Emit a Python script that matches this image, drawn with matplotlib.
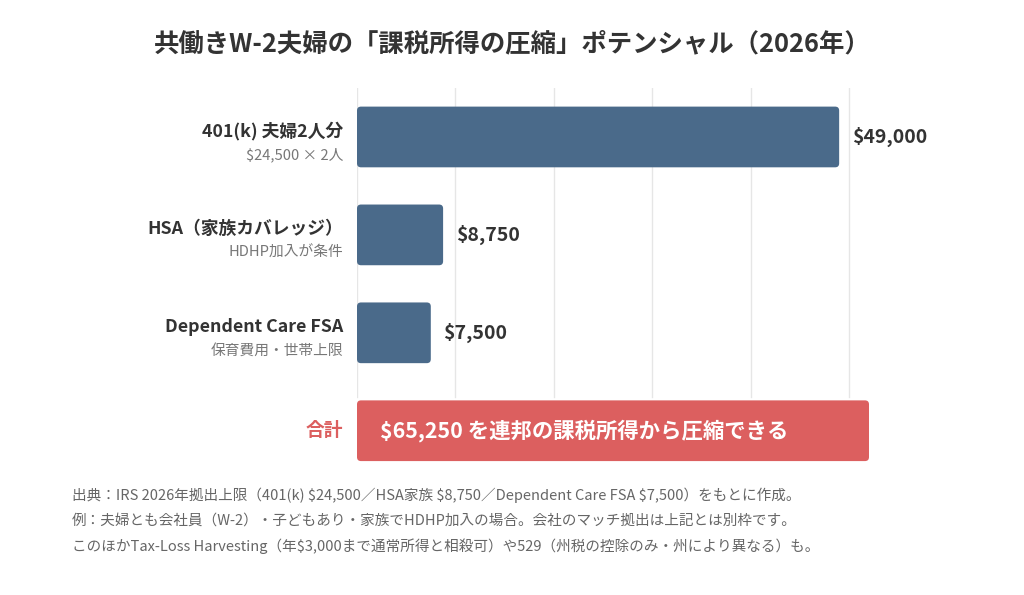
import matplotlib.pyplot as plt
from matplotlib.patches import FancyBboxPatch

plt.rcParams['font.family'] = ['Noto Sans CJK JP', 'DejaVu Sans']

title = '共働きW-2夫婦の「課税所得の圧縮」ポテンシャル（2026年）'
labels = ['401(k) 夫婦2人分', 'HSA（家族カバレッジ）', 'Dependent Care FSA']
sublabels = ['$24,500 × 2人', 'HDHP加入が条件', '保育費用・世帯上限']
values = [49000, 8750, 7500]
value_text = ['$49,000', '$8,750', '$7,500']
total_label = '合計'
total_text = '$65,250 を連邦の課税所得から圧縮できる'
grid_ticks = [0, 10000, 20000, 30000, 40000, 50000]
notes = [
    '出典：IRS 2026年拠出上限（401(k) $24,500／HSA家族 $8,750／Dependent Care FSA $7,500）をもとに作成。',
    '例：夫婦とも会社員（W-2）・子どもあり・家族でHDHP加入の場合。会社のマッチ拠出は上記とは別枠です。',
    'このほかTax-Loss Harvesting（年$3,000まで通常所得と相殺可）や529（州税の控除のみ・州により異なる）も。',
]

bar_color = '#4a6a8a'
red = '#dc5f5f'
dark = '#333333'
gray = '#777777'

W, H = 1024, 595
fig = plt.figure(figsize=(W / 100, H / 100), dpi=100)
fig.patch.set_facecolor('white')

# axes placed in pixels
left, right, top, bottom = 357, 869, 88, 465
ax = fig.add_axes([left / W, 1 - bottom / H, (right - left) / W, (bottom - top) / H])
xmax = 50000 * (right - left) / (849 - 357)
ax.set_xlim(0, xmax)
ax.set_ylim(3.35, -0.5)
ax.axis('off')

for t in grid_ticks:
    ax.plot([t, t], [-0.5, 2.66], color='#e6e6e6', lw=1, zorder=0)

bh = 0.62
px_x = xmax / (right - left)
px_y = 3.85 / (bottom - top)
asp = px_y / px_x
rs = 4 * px_x

for i, v in enumerate(values):
    ax.add_patch(FancyBboxPatch((0, i - bh / 2), v, bh,
                                boxstyle=f'round,pad=0,rounding_size={rs}',
                                mutation_aspect=asp, fc=bar_color, ec='none', zorder=2))
    ax.annotate(value_text[i], (v, i), xytext=(9, 0), textcoords='offset points',
                ha='left', va='center', fontsize=14, fontweight='bold', color=dark)
    ax.annotate(labels[i], (0, i), xytext=(-10, 4.5), textcoords='offset points',
                ha='right', va='center', fontsize=12.8, fontweight='bold', color=dark)
    ax.annotate(sublabels[i], (0, i), xytext=(-10, -13), textcoords='offset points',
                ha='right', va='center', fontsize=10.6, color=gray)

ax.add_patch(FancyBboxPatch((0, 3 - bh / 2), xmax, bh,
                            boxstyle=f'round,pad=0,rounding_size={rs}',
                            mutation_aspect=asp, fc=red, ec='none', zorder=2))
ax.annotate(total_label, (0, 3), xytext=(-10, 0), textcoords='offset points',
            ha='right', va='center', fontsize=13.5, fontweight='bold', color=red)
ax.annotate(total_text, (0, 3), xytext=(16.5, 0), textcoords='offset points',
            ha='left', va='center', fontsize=15.4, fontweight='bold', color='white')

fig.text(512 / W, 1 - 44 / H, title, ha='center', va='center',
         fontsize=18.3, fontweight='bold', color=dark)

for k, line in enumerate(notes):
    fig.text(72 / W, 1 - (495 + 25.5 * k) / H, line, ha='left', va='center',
             fontsize=10.5, color='#666666')

fig.savefig('out.png', dpi=100, facecolor='white')
